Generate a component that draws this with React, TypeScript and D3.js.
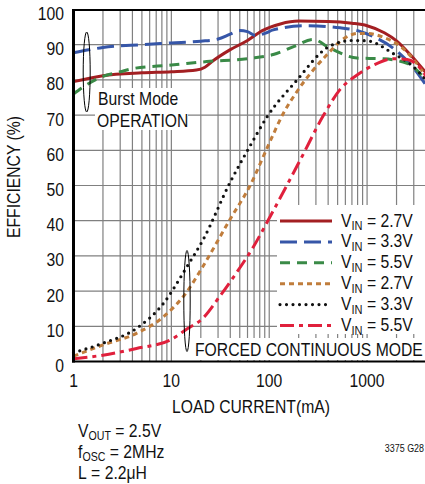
import React, { useRef, useEffect } from "react";
import * as d3 from "d3";

// load current (mA) / efficiency (%)
const burst27 = [[1, 79.5], [2, 81.2], [5, 82], [10, 82.3], [18, 82.8], [22, 83.6], [26, 85.2], [40, 88.6], [60, 91.2], [85, 94], [130, 95.9], [200, 96.7], [400, 96.6], [700, 96.1], [1000, 95.4], [1500, 93.4], [2000, 91.1], [2800, 87], [4000, 82]];
const burst33 = [[1, 87.7], [2, 89.2], [5, 90], [10, 90.5], [20, 91], [30, 91.6], [40, 93], [50, 94], [60, 93.7], [72, 92.6], [90, 93.2], [110, 94.2], [240, 95.4], [530, 94.8], [800, 94], [1160, 92.3], [1850, 89], [3200, 82.3], [4000, 78.5]];
const burst55 = [[1, 76], [1.36, 78.6], [2, 81], [3, 82.3], [4, 83.2], [10, 84.2], [23, 85.2], [64, 86.1], [110, 87.2], [180, 89.5], [280, 91.5], [420, 89], [790, 86.2], [1470, 86], [2560, 84.7], [4000, 80]];
const forced27 = [[1, 1.5], [2, 4.7], [4.4, 8], [8.3, 12.7], [14.4, 19.8], [21, 27], [40, 40.5], [63, 49.7], [100, 62], [140, 70.6], [190, 76.5], [370, 86.5], [600, 92], [800, 93.2], [1000, 93.2], [1500, 92], [2200, 89.5], [3400, 83.8], [4000, 81]];
const forced33 = [[1, 2.5], [2, 5.2], [4.4, 9.4], [8.3, 16.5], [14.4, 26.9], [21, 34.5], [40, 51], [63, 61], [95, 69.5], [186, 79.5], [410, 89.5], [700, 91.2], [1000, 91.1], [1850, 87.5], [2900, 84], [4000, 80]];
const forced55 = [[1, 0.8], [2, 1.8], [4.4, 3.7], [9.7, 6.1], [14.4, 9.2], [21, 12.3], [31, 18.4], [46, 25.1], [69, 32.6], [100, 40.7], [207, 57.2], [360, 70], [530, 77.3], [790, 81.4], [1170, 84.2], [1850, 86], [2560, 85.8], [3500, 83.3], [4000, 81]];

const legendLabels = ["2.7V", "3.3V", "5.5V", "2.7V", "3.3V", "5.5V"];
const yTicks = [0, 10, 20, 30, 40, 50, 60, 70, 80, 90, 100];
const xTicks = [1, 10, 100, 1000];

const series = [
  { data: burst27, color: "#a31f22", dash: "" },
  { data: burst33, color: "#3656a8", dash: "17 7" },
  { data: burst55, color: "#3a8a47", dash: "10 7" },
  { data: forced27, color: "#c07d3c", dash: "5 4" },
  { data: forced33, color: "#111", dash: "0 6.5", cap: "round" },
  { data: forced55, color: "#e0203c", dash: "14 5 4 5" },
];

const font = "'Liberation Sans', Arial, sans-serif";
const SX = 0.85; // squeeze to look like the condensed face

const App = () => {
  const ref = useRef<SVGSVGElement>(null);

  useEffect(() => {
    document.body.style.margin = "0";
    const svg = d3.select(ref.current);
    svg.selectAll("*").remove();

    const x = d3.scaleLog().domain([1, 4000]).range([73.5, 426]);
    const y = d3.scaleLinear().domain([0, 100]).range([361.5, 9.5]);

    const grid = svg.append("g").attr("stroke", "#808080").attr("stroke-width", 1.2);
    const minor: number[] = [];
    for (const d of [1, 10, 100, 1000]) for (let k = 2; k <= 9; k++) if (d * k < 4000) minor.push(d * k);
    [10, 100, 1000, ...minor].forEach((v) =>
      grid.append("line").attr("x1", x(v)).attr("x2", x(v)).attr("y1", y(0)).attr("y2", y(100))
    );
    yTicks.forEach((v) =>
      grid.append("line").attr("x1", x(1)).attr("x2", 425).attr("y1", y(v)).attr("y2", y(v))
    );

    // white boxes behind the notes
    svg.append("rect").attr("x", 95).attr("y", 88).attr("width", 93).attr("height", 42).attr("fill", "#fff");
    svg.append("rect").attr("x", 277).attr("y", 205).attr("width", 150).attr("height", 129).attr("fill", "#fff");
    svg.append("rect").attr("x", 192).attr("y", 338).attr("width", 228).attr("height", 22).attr("fill", "#fff");

    const line = d3
      .line<number[]>()
      .x((d) => x(d[0]))
      .y((d) => y(d[1]))
      .curve(d3.curveMonotoneX);

    const plot = svg.append("g");
    series.forEach((s) => {
      plot
        .append("path")
        .attr("d", line(s.data))
        .attr("fill", "none")
        .attr("stroke", s.color)
        .attr("stroke-width", s.cap ? 3.2 : 3)
        .attr("stroke-dasharray", s.dash)
        .attr("stroke-linecap", s.cap || "butt");
    });

    // frame
    svg.append("line").attr("x1", 73.5).attr("x2", 73.5).attr("y1", 9).attr("y2", 362.5).attr("stroke", "#000").attr("stroke-width", 3);
    svg.append("line").attr("x1", 72).attr("x2", 425).attr("y1", 10).attr("y2", 10).attr("stroke", "#000").attr("stroke-width", 2);
    svg.append("line").attr("x1", 72).attr("x2", 425).attr("y1", 361.5).attr("y2", 361.5).attr("stroke", "#000").attr("stroke-width", 2);

    // ellipses
    svg.append("ellipse").attr("cx", 86.7).attr("cy", 72).attr("rx", 3.5).attr("ry", 40).attr("fill", "none").attr("stroke", "#000").attr("stroke-width", 1);
    svg.append("ellipse").attr("cx", 187).attr("cy", 301).attr("rx", 3.2).attr("ry", 50.5).attr("fill", "none").attr("stroke", "#000").attr("stroke-width", 1);

    const txt = svg.append("g").attr("font-family", font).attr("fill", "#111").attr("font-size", 18.5);
    const put = (tx: number, ty: number, anchor = "start", rot = 0) =>
      txt
        .append("text")
        .attr("transform", `translate(${tx},${ty}) rotate(${rot}) scale(${SX},1)`)
        .attr("text-anchor", anchor);

    yTicks.forEach((v) => put(64, y(v) + 10.5, "end").text(v));
    xTicks.forEach((v) => put(x(v), 387, "middle").text(v));
    put(251, 413, "middle").text("LOAD CURRENT(mA)");
    put(20, 177, "middle", -90).text("EFFICIENCY (%)");

    put(98, 105).text("Burst Mode");
    put(97, 127).text("OPERATION");
    put(195, 356).text("FORCED CONTINUOUS MODE");

    // legend
    const leg = svg.append("g");
    series.forEach((s, i) => {
      const ly = 221 + i * 20.9;
      leg.append("line").attr("x1", 280).attr("x2", 332).attr("y1", ly).attr("y2", ly)
        .attr("stroke", s.color).attr("stroke-width", s.cap ? 3.2 : 3)
        .attr("stroke-dasharray", s.dash).attr("stroke-linecap", s.cap || "butt");
      const t = put(341, ly + 5.5);
      t.append("tspan").text("V");
      t.append("tspan").attr("font-size", 13).attr("dy", 3.5).text("IN");
      t.append("tspan").attr("dy", -3.5).text(" = " + legendLabels[i]);
    });

    const notes = [["V", "OUT", " = 2.5V"], ["f", "OSC", " = 2MHz"], ["L", "", " = 2.2μH"]];
    notes.forEach((n, i) => {
      const t = put(78, 437 + i * 21);
      t.append("tspan").text(n[0]);
      if (n[1]) t.append("tspan").attr("font-size", 12.5).attr("dy", 3).text(n[1]);
      t.append("tspan").attr("dy", n[1] ? -3 : 0).text(n[2]);
    });
    put(424, 452, "end").attr("font-size", 10.5).text("3375 G28");
  }, []);

  return <svg ref={ref} width={425} height={484} style={{ display: "block" }}></svg>;
};

export default App;
